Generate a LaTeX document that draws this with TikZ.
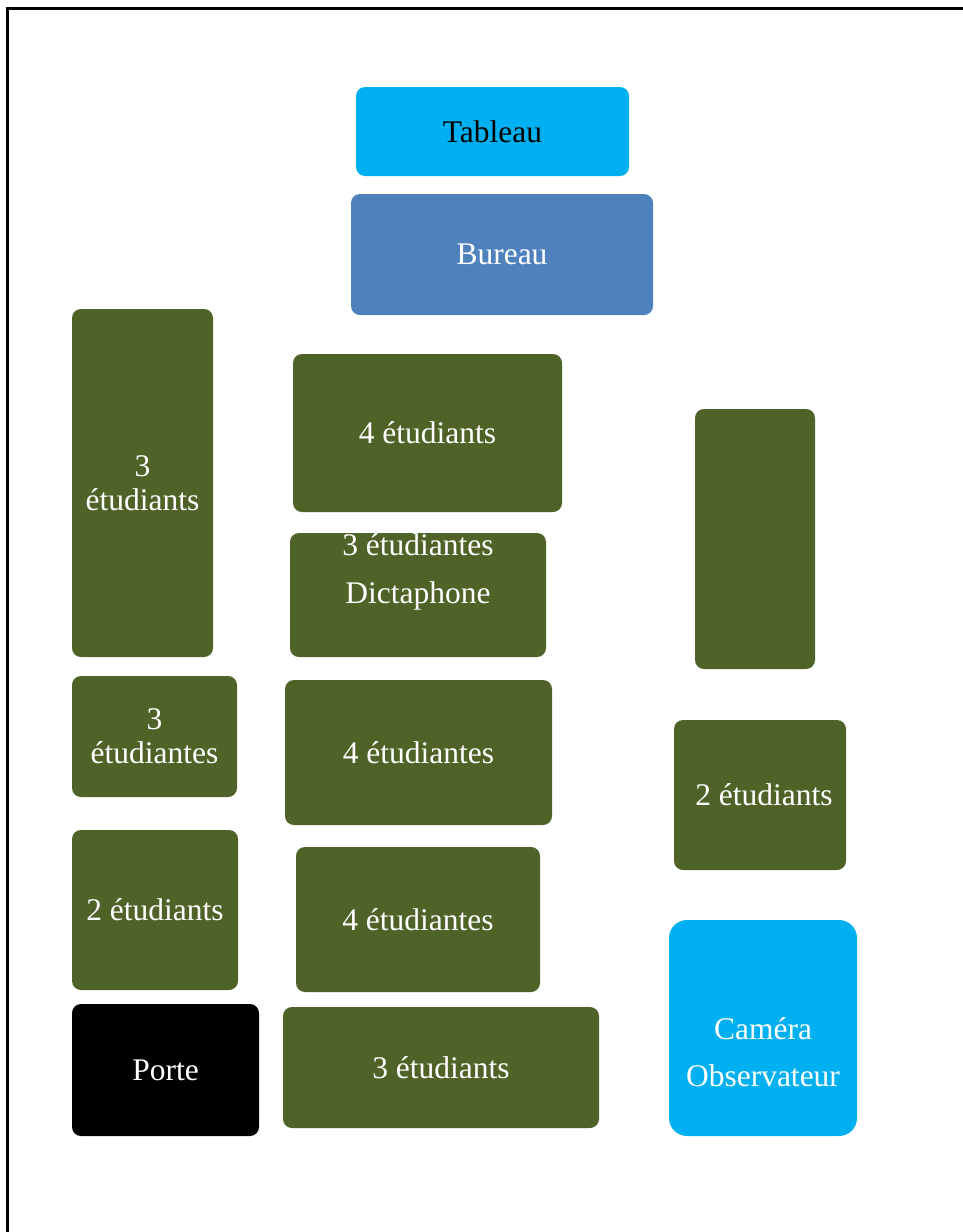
\documentclass[tikz,border=0pt]{standalone}
\usepackage{fontspec}
\setmainfont{Liberation Serif}
\definecolor{olive}{HTML}{4F6228}
\definecolor{cyanb}{HTML}{00B0F0}
\definecolor{steel}{HTML}{4F81BD}
\begin{document}
\begin{tikzpicture}[x=1pt,y=-1pt,
  box/.style={rounded corners=9pt, draw=none, inner sep=0pt, text=white, align=center,
    font=\fontsize{31.5}{34}\selectfont},
  seat/.style={box, fill=olive},
  txt/.style={inner sep=0pt, text=white, align=center, font=\fontsize{31.5}{34}\selectfont}]
\useasboundingbox (0,0) rectangle (963,1232);
\fill[white] (0,0) rectangle (963,1232);
\draw[line width=3pt] (7,1240) -- (7,8) -- (970,8);
% boxes
\node[box, fill=cyanb, text=black, minimum width=273pt, minimum height=89pt] (tableau) at (492.5,131.5) {Tableau};
\node[box, fill=steel, minimum width=302pt, minimum height=121pt] (bureau) at (502,254.5) {Bureau};
\node[seat, minimum width=141pt, minimum height=348pt] (g1) at (142.5,483) {3\\étudiants};
\node[seat, minimum width=269pt, minimum height=158pt] (g2) at (427.5,433) {4 étudiants};
\node[seat, minimum width=256pt, minimum height=124pt] (g3) at (418,595) {};
\node[txt] (g3t) at (418,572) {3 étudiantes\\[14pt]Dictaphone};
\node[seat, minimum width=120pt, minimum height=260pt] (g4) at (755,539) {};
\node[seat, minimum width=165pt, minimum height=121pt] (g5) at (154.5,736.5) {3\\étudiantes};
\node[seat, minimum width=267pt, minimum height=145pt] (g6) at (418.5,752.5) {4 étudiantes};
\node[seat, minimum width=172pt, minimum height=150pt] (g7) at (760,795) {\hspace*{8pt}2 étudiants};
\node[seat, minimum width=166pt, minimum height=160pt] (g8) at (155,910) {2 étudiants};
\node[seat, minimum width=244pt, minimum height=145pt] (g9) at (418,919.5) {4 étudiantes};
\node[box, fill=black, minimum width=187pt, minimum height=132pt] (porte) at (165.5,1070) {Porte};
\node[seat, minimum width=316pt, minimum height=121pt] (g10) at (441,1067.5) {3 étudiants};
\node[box, fill=cyanb, rounded corners=18pt, minimum width=188pt, minimum height=216pt] (cam) at (763,1028) {};
\node[txt] (camt) at (763,1052) {Caméra\\[13pt]Observateur};
\end{tikzpicture}
\end{document}
